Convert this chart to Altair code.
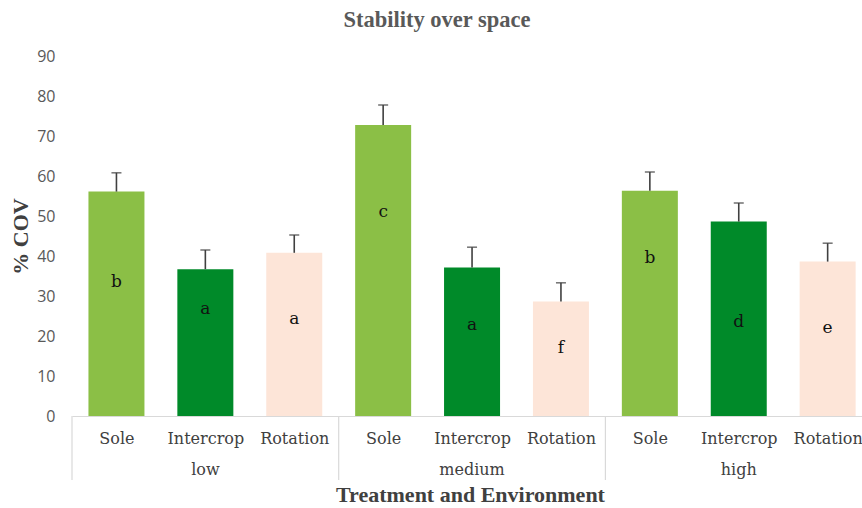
import altair as alt
import pandas as pd

# Coefficient of variation (%) per cropping system and environment
environments = ["low", "medium", "high"]
treatments = ["Sole", "Intercrop", "Rotation"]
cov_values = [56.1, 36.7, 40.8, 72.75, 37.1, 28.6, 56.3, 48.6, 38.6]
cov_errors = [4.7, 4.8, 4.45, 5.0, 5.1, 4.7, 4.7, 4.65, 4.6]
group_letters = ["b", "a", "a", "c", "a", "f", "b", "d", "e"]
letter_heights = [33.6, 26.75, 24.25, 51.0, 22.75, 17.0, 39.5, 23.6, 22.0]

colors = ["#8bbf46", "#008a29", "#fde5d8"]

rows = []
for i, (v, e, lab, ly) in enumerate(zip(cov_values, cov_errors, group_letters, letter_heights)):
    rows.append({
        "pos": i + 0.5,
        "treatment": treatments[i % 3],
        "environment": environments[i // 3],
        "cov": v,
        "upper": v + e,
        "letter": lab,
        "letter_y": ly,
    })
df = pd.DataFrame(rows)

env_df = pd.DataFrame({"pos": [1.5, 4.5, 7.5], "environment": environments})
sep_df = pd.DataFrame({"pos": [0, 3, 6]})

SLOT = 88.9
PLOT_W = 790
PLOT_H = 360
x_scale = alt.Scale(domain=[0, PLOT_W / SLOT], nice=False, zero=False, padding=0)
y_scale = alt.Scale(domain=[0, 90], nice=False, padding=0)

serif = "Liberation Serif"
label_serif = "DejaVu Serif"
label_expr = "[" + ",".join(f"'{t}'" for t in treatments) + "][floor(datum.value) % 3]"

x_axis = alt.Axis(
    values=[r + 0.5 for r in range(9)],
    labelExpr=label_expr,
    grid=False,
    ticks=False,
    tickSize=0,
    domainColor="#d9d9d9",
    domainWidth=1.2,
    labelFont=label_serif,
    labelFontSize=16,
    labelColor="#404040",
    labelPadding=22,
    labelBaseline="middle",
    labelFlush=False,
    labelOverlap=False,
    title="Treatment and Environment",
    titleFont=serif,
    titleFontSize=22,
    titleFontWeight="bold",
    titleColor="#404040",
    titleX=398,
    titleY=78,
    titleAlign="center",
    titleBaseline="middle",
)

y_axis = alt.Axis(
    values=list(range(0, 91, 10)),
    grid=False,
    ticks=False,
    tickSize=0,
    domain=False,
    labelOverlap=False,
    labelFont="Open Sans",
    labelFontSize=16,
    labelColor="#595959",
    labelPadding=17,
    title="% COV",
    titleFont=serif,
    titleFontSize=22,
    titleFontWeight="bold",
    titleColor="#404040",
    titleX=-52,
    titleY=180,
    titleAngle=270,
    titleAlign="center",
    titleBaseline="middle",
)

base = alt.Chart(df)

bars = base.mark_bar(size=56).encode(
    x=alt.X("pos:Q", scale=x_scale, axis=x_axis),
    y=alt.Y("cov:Q", scale=y_scale, axis=y_axis),
    color=alt.Color("treatment:N", scale=alt.Scale(domain=treatments, range=colors), legend=None),
)

err = base.mark_rule(color="#404040", strokeWidth=1.6).encode(
    x="pos:Q", y="cov:Q", y2="upper:Q"
)

caps = base.mark_tick(orient="horizontal", size=10, thickness=1.6, color="#404040").encode(
    x="pos:Q", y="upper:Q"
)

letters = base.mark_text(font=label_serif, fontSize=17, color="#111111", baseline="middle").encode(
    x="pos:Q", y="letter_y:Q", text="letter:N"
)

env_labels = alt.Chart(env_df).mark_text(
    font=label_serif, fontSize=16, color="#404040", baseline="middle"
).encode(x="pos:Q", y=alt.value(PLOT_H + 54), text="environment:N")

separators = alt.Chart(sep_df).mark_rule(color="#d9d9d9", strokeWidth=1.2).encode(
    x="pos:Q", y=alt.value(PLOT_H), y2=alt.value(PLOT_H + 64)
)

chart = alt.layer(bars, err, caps, letters, env_labels, separators).properties(
    width=PLOT_W,
    height=PLOT_H,
    background="white",
    autosize=alt.AutoSizeParams(type="none"),
    padding={"left": 72, "top": 56, "right": 0, "bottom": 92},
    title=alt.TitleParams(
        "Stability over space",
        anchor="middle",
        dx=-30,
        offset=-1,
        baseline="alphabetic",
        font=serif,
        fontSize=22.5,
        fontWeight="bold",
        color="#595959",
    ),
).configure_view(stroke=None).configure_axisY(labelOverlap=False, tickCount=10)

chart.save("out.html", embed_options={"renderer": "svg", "actions": False})
